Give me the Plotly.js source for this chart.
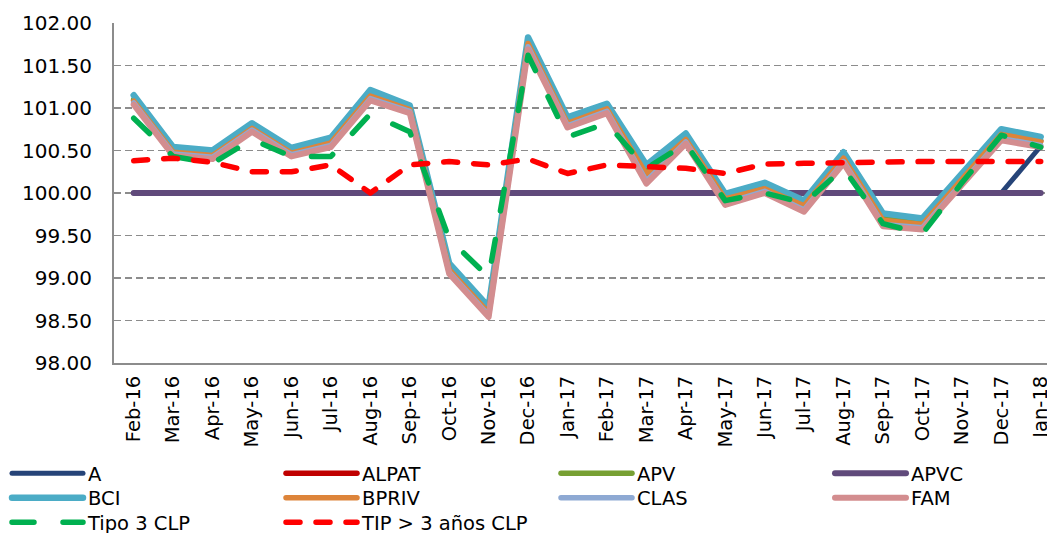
<!DOCTYPE html>
<html>
<head>
<meta charset="utf-8">
<script src="https://cdn.plot.ly/plotly-3.0.1.min.js"></script>
<style>
  html, body { margin: 0; padding: 0; background: #fff; }
  #chart { width: 1047px; height: 533px; }
  .scatterlayer path.js-line, .legendlines path { stroke-linecap: round; stroke-linejoin: round; }
</style>
</head>
<body>
<div id="chart"></div>
<script>
const months = ["Feb-16","Mar-16","Apr-16","May-16","Jun-16","Jul-16","Aug-16","Sep-16","Oct-16","Nov-16","Dec-16","Jan-17",
                "Feb-17","Mar-17","Apr-17","May-17","Jun-17","Jul-17","Aug-17","Sep-17","Oct-17","Nov-17","Dec-17","Jan-18"];

const seriesA     = [100.00,100.00,100.00,100.00,100.00,100.00,100.00,100.00,100.00,100.00,100.00,100.00,
                     100.00,100.00,100.00,100.00,100.00,100.00,100.00,100.00,100.00,100.00,100.00,100.55];
const seriesALPAT = [101.09,100.49,100.45,100.77,100.48,100.60,101.15,100.99,99.11,98.60,101.77,100.83,
                     101.00,100.23,100.64,99.94,100.06,99.86,100.42,99.69,99.64,100.17,100.70,100.61];
const seriesAPV   = [101.10,100.50,100.46,100.78,100.49,100.61,101.16,101.00,99.12,98.61,101.78,100.84,
                     101.01,100.25,100.65,99.95,100.07,99.87,100.43,99.70,99.65,100.18,100.71,100.62];
const seriesAPVC  = [100.00,100.00,100.00,100.00,100.00,100.00,100.00,100.00,100.00,100.00,100.00,100.00,
                     100.00,100.00,100.00,100.00,100.00,100.00,100.00,100.00,100.00,100.00,100.00,100.00];
const seriesBCI   = [101.15,100.54,100.50,100.82,100.53,100.65,101.21,101.03,99.17,98.66,101.83,100.89,
                     101.05,100.33,100.70,99.99,100.12,99.91,100.48,99.76,99.70,100.22,100.75,100.66];
const seriesBPRIV = [101.08,100.48,100.44,100.76,100.47,100.59,101.14,100.98,99.10,98.59,101.76,100.82,
                     100.99,100.22,100.63,99.93,100.05,99.85,100.41,99.68,99.63,100.16,100.69,100.60];
const seriesCLAS  = [101.06,100.46,100.42,100.74,100.45,100.56,101.11,100.96,99.07,98.56,101.72,100.79,
                     100.96,100.14,100.60,99.88,100.02,99.80,100.37,99.63,99.59,100.12,100.64,100.56];
const seriesFAM   = [101.04,100.44,100.40,100.72,100.43,100.54,101.09,100.94,99.05,98.54,101.69,100.77,
                     100.94,100.11,100.58,99.86,100.00,99.78,100.35,99.61,99.57,100.10,100.62,100.54];
const seriesTipo3 = [100.88,100.43,100.35,100.63,100.43,100.43,100.93,100.72,99.46,99.01,101.62,100.66,
                     100.82,100.29,100.58,99.91,100.00,99.88,100.29,99.64,99.52,100.12,100.68,100.54];
const seriesTIP   = [100.38,100.41,100.36,100.25,100.25,100.33,100.00,100.33,100.37,100.33,100.40,100.23,
                     100.33,100.31,100.29,100.23,100.34,100.35,100.36,100.36,100.37,100.37,100.37,100.37];

const yTickVals = [98, 98.5, 99, 99.5, 100, 100.5, 101, 101.5, 102];

const FONT = 'DejaVu Sans, Verdana, sans-serif';

function solid(name, y, color, width, legend) {
  return { type: 'scatter', mode: 'lines', name: name, x: months, y: y, legend: legend,
           line: { color: color, width: width }, hoverinfo: 'x+y+name' };
}
function dashed(name, y, color, dash, legend) {
  return { type: 'scatter', mode: 'lines', name: name, x: months, y: y, legend: legend,
           line: { color: color, width: 5.5, dash: dash }, hoverinfo: 'x+y+name' };
}

const traces = [
  solid('A', seriesA, '#264478', 5, 'legend'),
  solid('ALPAT', seriesALPAT, '#C00000', 5.5, 'legend2'),
  solid('APV', seriesAPV, '#77A033', 5.5, 'legend3'),
  solid('APVC', seriesAPVC, '#604A7B', 6, 'legend4'),
  solid('BCI', seriesBCI, '#4BACC6', 6.5, 'legend'),
  solid('BPRIV', seriesBPRIV, '#DD843A', 5.5, 'legend2'),
  solid('CLAS', seriesCLAS, '#8EA9D3', 5.5, 'legend3'),
  solid('FAM', seriesFAM, '#D38D8F', 6, 'legend4'),
  dashed('Tipo 3 CLP', seriesTipo3, '#00B050', '22px,29px', 'legend'),
  dashed('TIP > 3 años CLP', seriesTIP, '#FF0000', '14px,16px', 'legend2')
];

function legendCol(px) {
  return {
    orientation: 'v',
    xref: 'container', yref: 'container',
    x: px / 1047, y: 1 - 454 / 533, xanchor: 'left', yanchor: 'top',
    traceorder: 'normal',
    itemwidth: 71,
    font: { family: FONT, size: 19.5, color: '#000' },
    bgcolor: 'rgba(0,0,0,0)', borderwidth: 0,
    itemclick: false, itemdoubleclick: false
  };
}

const layout = {
  width: 1047, height: 533,
  margin: { l: 114, r: 0, t: 23, b: 170, autoexpand: false },
  paper_bgcolor: '#ffffff', plot_bgcolor: '#ffffff',
  font: { family: FONT, size: 19.5, color: '#000000' },
  showlegend: true,
  xaxis: {
    type: 'category',
    categoryorder: 'array', categoryarray: months,
    range: [-0.5, 23.16],
    tickmode: 'array', tickvals: months, ticktext: months,
    tickangle: -90,
    tickfont: { family: FONT, size: 19.5, color: '#000' },
    showgrid: false, zeroline: false,
    showline: true, linecolor: '#8C8C8C', linewidth: 2,
    ticks: '', ticklabelstandoff: 3,
    automargin: false,
    fixedrange: true
  },
  yaxis: {
    range: [98, 102],
    tickmode: 'array', tickvals: yTickVals,
    tickformat: '.2f',
    tickfont: { family: FONT, size: 20, color: '#000' },
    showgrid: true, gridcolor: '#8C8C8C', gridwidth: 1.5, griddash: '7px,4px',
    zeroline: false,
    showline: true, linecolor: '#8C8C8C', linewidth: 2,
    ticks: '', ticklabelstandoff: 16,
    automargin: false,
    fixedrange: true
  },
  legend: legendCol(7),
  legend2: legendCol(281),
  legend3: legendCol(556),
  legend4: legendCol(830)
};

const gd = document.getElementById('chart');

function fixLegendRows() {
  gd.querySelectorAll('.infolayer > g').forEach(function (lg) {
    const cls = lg.getAttribute('class') || '';
    if (!/^legend\d*$/.test(cls)) return;
    const items = lg.querySelectorAll('g.traces');
    let y0 = null;
    items.forEach(function (it, i) {
      const tr = it.getAttribute('transform') || '';
      const m = tr.match(/translate\(\s*([-\d.e]+)[ ,]+([-\d.e]+)\s*\)/);
      if (!m) return;
      const x = parseFloat(m[1]);
      const y = parseFloat(m[2]);
      if (y0 === null) y0 = y;
      it.setAttribute('transform', 'translate(' + x + ',' + (y0 + i * 24.5) + ')');
    });
  });
}

Plotly.newPlot(gd, traces, layout, { staticPlot: true, displayModeBar: false });
fixLegendRows();
if (gd.on) gd.on('plotly_afterplot', fixLegendRows);
</script>
</body>
</html>
